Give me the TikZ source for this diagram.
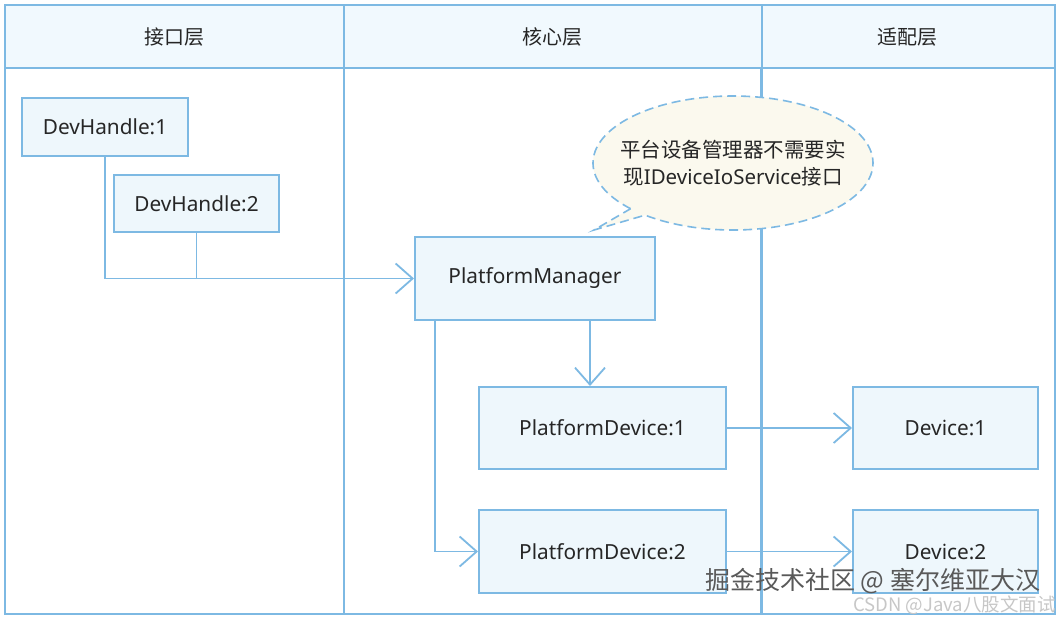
\documentclass[tikz,border=0pt]{standalone}
\usepackage{fontspec}
\setmainfont{Noto Sans}
\newfontfamily\cjk{Noto Sans CJK SC}
\usetikzlibrary{arrows.meta}
\definecolor{lineblue}{HTML}{7DB9E3}
\definecolor{headfill}{HTML}{F1F9FE}
\definecolor{boxfill}{HTML}{EEF7FC}
\definecolor{bubblefill}{HTML}{FBF9EE}
\tikzset{
  frame/.style={draw=lineblue, line width=2pt},
  obj/.style={draw=lineblue, fill=boxfill, line width=2pt, inner sep=0pt,
    font=\fontsize{20.8}{24}\selectfont, text=black!85},
  head/.style={font=\cjk\fontsize{20}{24}\selectfont, text=black!85},
  conn/.style={draw=lineblue, line width=1.8pt},
  arr/.style={conn, -{Straight Barb[length=17pt, width=30pt, line width=1.8pt]}},
}
\begin{document}
\begin{tikzpicture}[x=1pt, y=-1pt]
\useasboundingbox (0,0) rectangle (1059,619);
% lanes
\fill[white] (0,0) rectangle (1059,619);
\fill[headfill] (5,5) rectangle (1055,68);
\draw[frame] (5,5) rectangle (1055,614);
\draw[frame] (5,68) -- (1055,68);
\draw[frame] (343.5,5) -- (343.5,614);
\draw[frame] (761.5,5) -- (761.5,68);
\draw[draw=lineblue, line width=3pt] (761.5,68) -- (761.5,614);
\node[head] (h1) at (174,37) {接口层};
\node[head] (h2) at (552,37) {核心层};
\node[head] (h3) at (907,37) {适配层};
% callout bubble
\draw[draw=lineblue, fill=bubblefill, line width=1.6pt, dash pattern=on 9pt off 5pt]
  (630.6,208.7) arc[start angle=137, end angle=488.9, x radius=140, y radius=67]
  -- (594,230) -- cycle;
\node[font=\cjk\fontsize{20.5}{27}\selectfont, align=center, text=black!85] (note) at (733,163)
  {平台设备管理器不需要实\\现{\rmfamily IDeviceIoService}接口};
% objects
\node[obj, minimum width=166pt, minimum height=58pt] (dh1) at (105,127) {DevHandle:1};
\node[obj, minimum width=165pt, minimum height=57pt] (dh2) at (196.5,203.5) {DevHandle:2};
\node[obj, minimum width=240pt, minimum height=83pt] (pm) at (535,278.5) {PlatformManager};
\node[obj, minimum width=247pt, minimum height=82pt] (pd1) at (602.5,428) {PlatformDevice:1};
\node[obj, minimum width=247pt, minimum height=83pt] (pd2) at (602.5,551.5) {PlatformDevice:2};
\node[obj, minimum width=185pt, minimum height=82pt] (d1) at (945.5,428) {Device:1};
\node[obj, minimum width=185pt, minimum height=83pt] (d2) at (945.5,551.5) {Device:2};
% connectors
\draw[arr] (dh1.south) |- (pm.west);
\draw[conn] (dh2.south) -- (dh2.south |- pm.west);
\draw[arr] ([xshift=55pt]pm.south) -- ([xshift=-12.5pt]pd1.north);
\draw[arr] ([xshift=-100pt]pm.south) |- (pd2.west);
\draw[arr] (pd1.east) -- (d1.west);
\draw[arr] (pd2.east) -- (d2.west);
% watermarks
\node[font=\cjk\fontsize{25}{28}\selectfont, text=black!65, anchor=west, inner sep=0pt] (wm1) at (705,581) {掘金技术社区 @ 塞尔维亚大汉};
\node[font=\cjk\fontsize{18.5}{20}\selectfont, text=black!22, anchor=east, inner sep=0pt] (wm2) at (1056,605) {CSDN @Java八股文面试};
\end{tikzpicture}
\end{document}
